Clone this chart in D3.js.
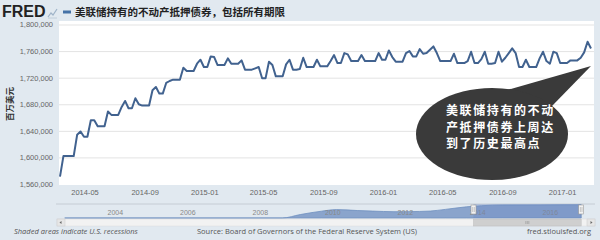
<!DOCTYPE html>
<html lang="zh">
<head>
<meta charset="UTF-8">
<title>FRED - 美联储持有的不动产抵押债券</title>
<script src="https://cdn.jsdelivr.net/npm/d3@7"></script>
<style>
  html, body { margin: 0; padding: 0; background: #e1e9f0; }
  svg { display: block; font-family: "Open Sans", "Noto Sans", sans-serif; }
  .ylab text, .xlab text { fill: #666; font-size: 7.5px; }
  .grid line { stroke: #e3e3e3; }
  .domain { display: none; }
  .navlab text { fill: #888; font-size: 7px; }
  .foot { fill: #555; font-size: 7.5px; }
</style>
</head>
<body>
<svg width="600" height="240"></svg>
<script>
// weekly series, billions of dollars (chart unit is millions)
const startDate = new Date(2014, 2, 12);
const values = [
  1571, 1602, 1602, 1602, 1602, 1634, 1639, 1631, 1631, 1656,
  1656, 1647, 1647, 1647, 1669, 1664, 1664, 1664, 1676, 1685,
  1674, 1674, 1689, 1680, 1678, 1678, 1678, 1701, 1706, 1696,
  1696, 1712, 1715, 1717, 1717, 1717, 1735, 1730, 1730, 1730,
  1741, 1747, 1736, 1736, 1752, 1751, 1739, 1739, 1739, 1749,
  1741, 1741, 1741, 1746, 1732, 1732, 1732, 1734, 1736, 1719,
  1719, 1744, 1739, 1722, 1722, 1722, 1740, 1747, 1732, 1732,
  1733, 1750, 1736, 1736, 1736, 1747, 1737, 1737, 1737, 1745,
  1754, 1742, 1742, 1757, 1755, 1745, 1745, 1745, 1754, 1745,
  1745, 1745, 1745, 1757, 1747, 1747, 1761, 1751, 1744, 1744,
  1744, 1757, 1760, 1752, 1752, 1763, 1756, 1757, 1762, 1767,
  1757, 1745, 1745, 1745, 1745, 1756, 1742, 1742, 1742, 1745,
  1759, 1742, 1742, 1748, 1759, 1741, 1741, 1742, 1759, 1744,
  1750, 1757, 1764, 1757, 1736, 1736, 1747, 1736, 1736, 1736,
  1749, 1759, 1745, 1741, 1759, 1757, 1742, 1742, 1742, 1746,
  1746, 1746, 1750, 1758, 1774, 1764
];
const xTickLabels = ["2014-05", "2014-09", "2015-01", "2015-05", "2015-09",
                     "2016-01", "2016-05", "2016-09", "2017-01"];
const yTicks = [1560000, 1600000, 1640000, 1680000, 1720000, 1760000, 1800000];

// navigator (whole history), billions
const navDates = ["2002-12", "2008-12", "2009-06", "2010-01", "2010-06", "2011-01",
                  "2011-06", "2012-01", "2012-06", "2013-01", "2013-06", "2014-01",
                  "2014-06", "2015-01", "2016-01", "2017-03"];
const navValues = [0, 0, 460, 910, 1118, 992, 920, 838, 850, 927, 1150, 1490,
                   1640, 1735, 1745, 1765];
const navYears = ["2004", "2006", "2008", "2010", "2012", "2014", "2016"];

const title = "美联储持有的不动产抵押债券，包括所有期限";
const yTitle = "百万美元";
const callout = ["美联储持有的不动", "产抵押债券上周达", "到了历史最高点"];

const svg = d3.select("svg");
const parseMonth = d3.timeParse("%Y-%m");
const parseYear = d3.timeParse("%Y");

const data = values.map((v, i) => ({ date: d3.timeWeek.offset(startDate, i), value: v * 1000 }));

const x = d3.scaleTime().domain(d3.extent(data, d => d.date)).range([60, 591]);
const y = d3.scaleLinear().domain([1560000, 1800000]).range([184, 24.5]);

// header
svg.append("text").attr("x", 2).attr("y", 17)
  .style("font-family", "Liberation Sans, Arial, sans-serif")
  .style("font-weight", "bold").style("font-size", "16px").attr("fill", "#222")
  .text("FRED");
const icon = svg.append("g").attr("transform", "translate(48,8)");
icon.append("path").attr("d", "M0,9 L3,5 L5,7 L9,1").attr("fill", "none")
  .attr("stroke", "#9fb3c8").attr("stroke-width", 1.2);
icon.append("path").attr("d", "M0,10 L9,10").attr("stroke", "#b8c6d4").attr("stroke-width", 0.8);
svg.append("line").attr("x1", 63).attr("x2", 71).attr("y1", 12).attr("y2", 12)
  .attr("stroke", "#4572a7").attr("stroke-width", 3);
svg.append("text").attr("x", 75).attr("y", 16)
  .style("font-family", "Noto Sans CJK SC").style("font-weight", "bold")
  .style("font-size", "10.5px").attr("fill", "#222").text(title);

// plot background
svg.append("rect").attr("x", 59).attr("y", 21).attr("width", 535).attr("height", 164)
  .attr("fill", "#fff");

svg.append("g").attr("class", "grid")
  .attr("transform", "translate(59,0)")
  .call(d3.axisLeft(y).tickValues(yTicks.slice(1)).tickSize(-535).tickFormat(""));

svg.append("g").attr("class", "ylab")
  .attr("transform", "translate(53,0)")
  .call(d3.axisLeft(y).tickValues(yTicks).tickSize(0).tickPadding(0).tickFormat(d3.format(",")));

svg.append("g").attr("class", "xlab")
  .attr("transform", "translate(0,190)")
  .call(d3.axisBottom(x).tickValues(xTickLabels.map(parseMonth)).tickSize(0).tickPadding(0)
    .tickFormat(d3.timeFormat("%Y-%m")));

svg.append("text")
  .attr("transform", "translate(13,104) rotate(-90)")
  .attr("text-anchor", "middle")
  .style("font-family", "Noto Sans CJK SC").style("font-weight", "bold")
  .style("font-size", "8.5px").attr("fill", "#333").text(yTitle);

svg.append("path").datum(data)
  .attr("fill", "none").attr("stroke", "#41628f").attr("stroke-width", 2)
  .attr("stroke-linejoin", "round")
  .attr("d", d3.line().x(d => x(d.date)).y(d => y(d.value)));

// navigator
const navX = d3.scaleTime().domain([parseYear("2004"), parseYear("2016")]).range([104, 539]);
const navY = d3.scaleLinear().domain([0, 1800]).range([218, 204.5]);
const navData = navDates.map((d, i) => ({ date: parseMonth(d), value: navValues[i] }));

svg.append("line").attr("x1", 56).attr("x2", 595).attr("y1", 204).attr("y2", 204)
  .attr("stroke", "#c5ccd4");
svg.append("path").datum(navData)
  .attr("fill", "#8aa4cc").attr("stroke", "#6f8fbf").attr("stroke-width", 0.8)
  .attr("d", d3.area().x(d => navX(d.date)).y0(218).y1(d => navY(d.value)).curve(d3.curveMonotoneX));

svg.append("g").attr("class", "navlab")
  .attr("transform", "translate(3,210)")
  .call(d3.axisBottom(navX).tickValues(navYears.map(parseYear)).tickSize(0).tickPadding(0)
    .tickFormat(d3.timeFormat("%Y")))
  .selectAll("text").attr("text-anchor", "start");

const selX0 = navX(data[0].date), selX1 = navX(data[data.length - 1].date);
svg.append("rect").attr("x", selX0).attr("y", 204).attr("width", selX1 - selX0).attr("height", 14)
  .attr("fill", "rgba(102,133,194,0.3)");
[selX0, selX1].forEach(hx => {
  svg.append("rect").attr("x", hx - 2.5).attr("y", 205).attr("width", 5).attr("height", 9)
    .attr("fill", "#f2f2f2").attr("stroke", "#999").attr("stroke-width", 0.6);
  svg.append("line").attr("x1", hx - 0.8).attr("x2", hx - 0.8).attr("y1", 207).attr("y2", 212).attr("stroke", "#999").attr("stroke-width", 0.5);
  svg.append("line").attr("x1", hx + 0.8).attr("x2", hx + 0.8).attr("y1", 207).attr("y2", 212).attr("stroke", "#999").attr("stroke-width", 0.5);
});

// scrollbar
svg.append("rect").attr("x", 57).attr("y", 219).attr("width", 538).attr("height", 7)
  .attr("fill", "#f2f2f2").attr("stroke", "#dcdcdc").attr("stroke-width", 0.5);
svg.append("rect").attr("x", selX0).attr("y", 219).attr("width", selX1 - selX0).attr("height", 7)
  .attr("fill", "#cfcfcf").attr("stroke", "#bbb").attr("stroke-width", 0.5);
[-1.5, 0, 1.5].forEach(o => svg.append("line")
  .attr("x1", (selX0 + selX1) / 2 + o).attr("x2", (selX0 + selX1) / 2 + o)
  .attr("y1", 221).attr("y2", 224).attr("stroke", "#888").attr("stroke-width", 0.5));
[[57, "M61.5,221 L59.5,222.5 L61.5,224 Z"], [587, "M590.5,221 L592.5,222.5 L590.5,224 Z"]].forEach(([bx, p]) => {
  svg.append("rect").attr("x", bx).attr("y", 219).attr("width", 8).attr("height", 7)
    .attr("fill", "#e6e6e6").attr("stroke", "#ccc").attr("stroke-width", 0.5);
  svg.append("path").attr("d", p).attr("fill", "#666");
});

// footer
svg.append("text").attr("class", "foot").attr("x", 14).attr("y", 234)
  .style("font-style", "italic").text("Shaded areas indicate U.S. recessions");
svg.append("text").attr("class", "foot").attr("x", 307).attr("y", 234)
  .attr("text-anchor", "middle").text("Source: Board of Governors of the Federal Reserve System (US)");
svg.append("text").attr("class", "foot").attr("x", 591).attr("y", 234)
  .attr("text-anchor", "end").text("fred.stlouisfed.org");

// speech bubble
const bubble = svg.append("g");
bubble.append("path").attr("d", "M500,92 L591,66 L552,106 Z").attr("fill", "#3a3a3a");
bubble.append("ellipse").attr("cx", 492).attr("cy", 134).attr("rx", 76).attr("ry", 46)
  .attr("fill", "#3a3a3a");
bubble.selectAll("text.call").data(callout).join("text")
  .attr("class", "call")
  .style("font-family", "Noto Sans CJK SC").style("font-weight", "bold")
  .style("font-size", "12px").style("letter-spacing", "1.6px").attr("fill", "#fff")
  .attr("x", 446).attr("y", (d, i) => 115 + i * 16.5).text(d => d);
</script>
</body>
</html>
